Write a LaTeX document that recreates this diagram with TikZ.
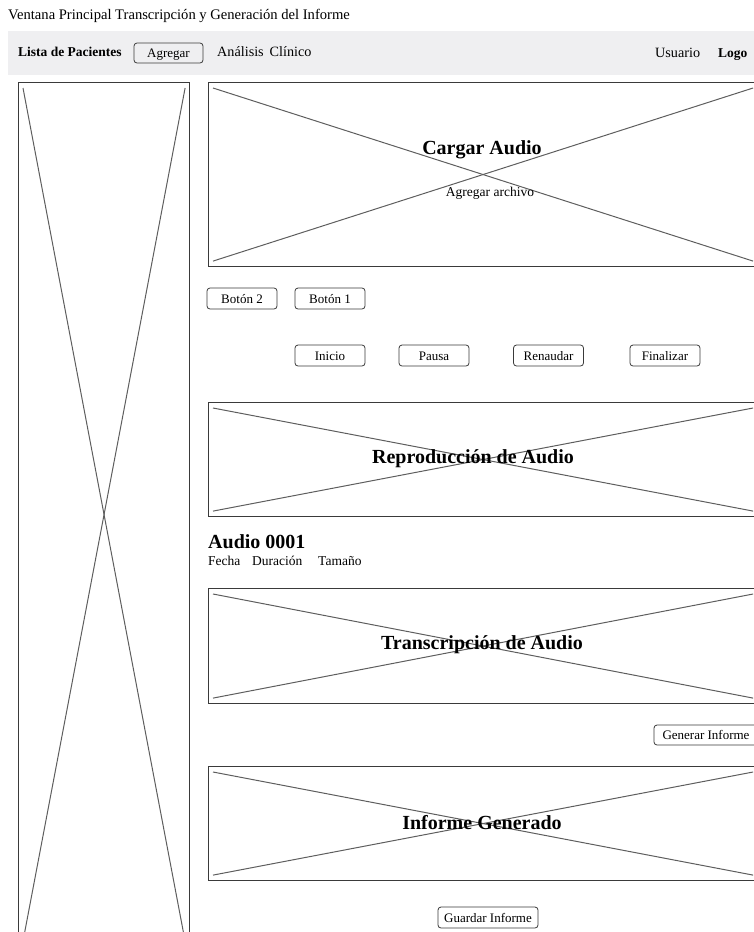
\documentclass[tikz,border=0pt]{standalone}
\usepackage{fontspec}
\setmainfont{Liberation Serif}
\definecolor{barbg}{HTML}{EFEFF1}
\definecolor{edge}{HTML}{3A3A3A}
\definecolor{xline}{HTML}{5E5E5E}
\begin{document}
\begin{tikzpicture}[x=1pt,y=-1pt,
  frame/.style={draw=edge, line width=1.1pt, inner sep=0pt, anchor=north west},
  cross/.style={draw=xline, line width=1pt},
  btn/.style={draw=edge, rounded corners=3pt, line width=0.8pt, minimum width=70pt,
    minimum height=21pt, inner sep=0pt, text height=9pt, text depth=0pt,
    font=\fontsize{13}{15}\selectfont},
  heading/.style={inner sep=0pt, font=\fontsize{20}{24}\selectfont\bfseries},
  txt/.style={inner sep=0pt, font=\fontsize{13.5}{16}\selectfont},
  navtxt/.style={inner sep=0pt, font=\fontsize{14.2}{16}\selectfont},
  btxt/.style={inner sep=0pt, font=\fontsize{13.5}{16}\selectfont\bfseries}]
\useasboundingbox (0,0) rectangle (754,932);
\clip (0,0) rectangle (754,932);

% window title
\node[inner sep=0pt, font=\fontsize{14.6}{17}\selectfont, anchor=base west] (title) at (8,19) {Ventana Principal Transcripción y Generación del Informe};

% navigation bar
\node[fill=barbg, inner sep=0pt, minimum width=746pt, minimum height=44pt, anchor=north west] (bar) at (8,31) {};
\node[btxt, anchor=base west] (patients) at (18,56) {Lista de Pacientes};
\node[btn, minimum width=69pt, minimum height=20pt] (add) at (168.5,53) {Agregar};
\node[navtxt, anchor=base west] (analysis) at (217,56) {Análisis\, Clínico};
\node[navtxt, anchor=base west] (user) at (655,57) {Usuario};
\node[btxt, anchor=base west] (logo) at (718,57) {Logo};

% placeholder frames
\node[frame, minimum width=171pt, minimum height=864pt] (side) at (18,82) {};
\node[frame, minimum width=549pt, minimum height=184pt] (load) at (208,82) {};
\node[frame, minimum width=549pt, minimum height=114pt] (play) at (208,402) {};
\node[frame, minimum width=549pt, minimum height=115pt] (trans) at (208,588) {};
\node[frame, minimum width=549pt, minimum height=114pt] (report) at (208,766) {};

% crossed placeholders
\foreach \f in {side,load,play,trans,report}{
  \draw[cross] ([shift={(5,6)}]\f.north west) -- ([shift={(-5,-6)}]\f.south east);
  \draw[cross] ([shift={(-5,6)}]\f.north east) -- ([shift={(5,-6)}]\f.south west);
}

% frame captions
\node[heading] (loadcap) at (482,150) {Cargar Audio};
\node[txt] (loadsub) at (490,193) {Agregar archivo};
\node[heading] (playcap) at (473,459) {Reproducción de Audio};
\node[heading] (transcap) at (482,645) {Transcripción de Audio};
\node[heading] (reportcap) at (482,823) {Informe Generado};

% buttons
\node[btn] (b2) at (242,298.5) {Botón 2};
\node[btn] (b1) at (330,298.5) {Botón 1};
\node[btn] (start) at (330,355.5) {Inicio};
\node[btn] (pause) at (434,355.5) {Pausa};
\node[btn] (resume) at (548.5,355.5) {Renaudar};
\node[btn] (finish) at (665,355.5) {Finalizar};
\node[btn, minimum width=104pt, minimum height=20pt] (generate) at (706,735) {Generar Informe};
\node[btn, minimum width=100pt] (save) at (488,917.5) {Guardar Informe};

% audio details
\node[heading, anchor=base west] (audioname) at (208,548) {Audio 0001};
\node[txt, anchor=base west] (date) at (208,565) {Fecha};
\node[txt, anchor=base west] (duration) at (252,565) {Duración};
\node[txt, anchor=base west] (size) at (318,565) {Tamaño};
\end{tikzpicture}
\end{document}
